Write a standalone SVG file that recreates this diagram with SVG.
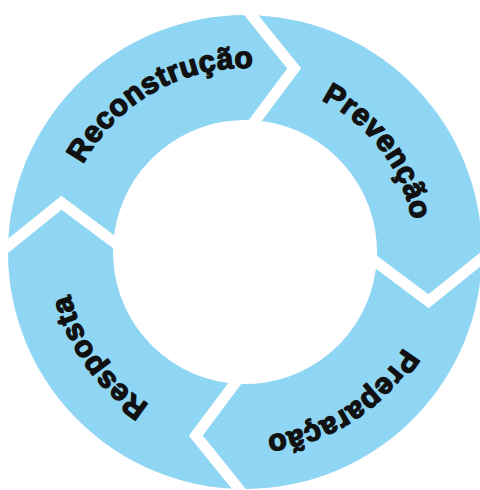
<svg xmlns="http://www.w3.org/2000/svg" width="480" height="490" viewBox="0 0 480 490">
<style>
.seg{fill:#8fd5f4}
.lbl{font-family:"Liberation Sans",Arial,sans-serif;font-weight:bold;font-size:30px;fill:#111;stroke:#111;stroke-width:1.4;stroke-linejoin:round;letter-spacing:0.5px;text-anchor:middle}
</style>
<defs>
<path id="arrow" d="M7.31,-236.89 A237,237 0 0 1 236.89,-7.13 L184.44,37.41 L132,0.29 A132,132 0 0 0 13.3,-131.33 L51.32,-185.06 Z"/>
<path id="pRec" d="M61,252 A184,184 0 0 1 429,252 A184,184 0 0 1 61,252"/>
<path id="pPrev" d="M75,252 A170,170 0 0 1 415,252 A170,170 0 0 1 75,252"/>
<path id="pPrep" d="M60,252 A185,185 0 0 1 430,252 A185,185 0 0 1 60,252"/>
<path id="pResp" d="M65,252 A180,180 0 0 1 425,252 A180,180 0 0 1 65,252"/>
</defs>
<rect width="480" height="490" fill="#ffffff"/>
<g id="reconstrucao">
<use href="#arrow" class="seg" transform="translate(245,252) rotate(-88.5)"/>
<text class="lbl"><textPath href="#pRec" startOffset="16.81%">Reconstrução</textPath></text>
</g>
<g id="prevencao">
<use href="#arrow" class="seg" transform="translate(245,252) rotate(1.5)"/>
<text class="lbl"><textPath href="#pPrev" startOffset="39.72%">Prevenção</textPath></text>
</g>
<g id="preparacao">
<use href="#arrow" class="seg" transform="translate(245,252) rotate(91.5)"/>
<text class="lbl"><textPath href="#pPrep" startOffset="65.89%">Preparação</textPath></text>
</g>
<g id="resposta">
<use href="#arrow" class="seg" transform="translate(245,252) rotate(181.5)"/>
<text class="lbl"><textPath href="#pResp" startOffset="90.08%">Resposta</textPath></text>
</g>
</svg>
